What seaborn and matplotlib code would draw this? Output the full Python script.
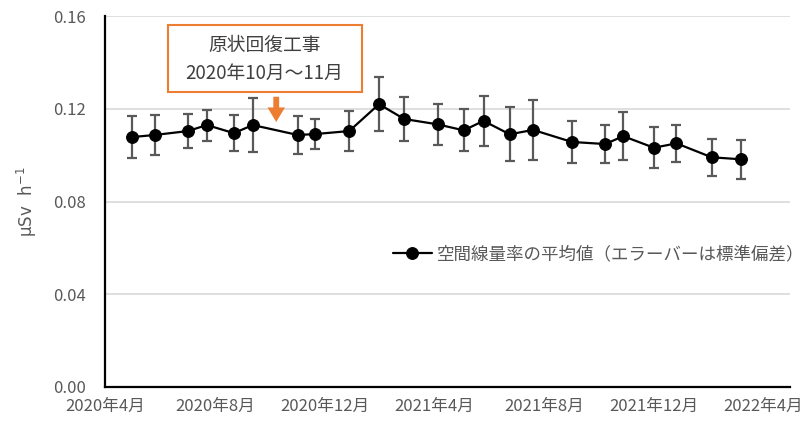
import matplotlib
matplotlib.use("Agg")
import matplotlib.pyplot as plt
import matplotlib.dates as mdates
from matplotlib.patches import FancyArrowPatch, Rectangle
import seaborn as sns
import pandas as pd

# Survey dates, mean air dose rate (μSv/h) and standard deviation
dates = ["2020-05-01", "2020-05-26", "2020-07-02", "2020-07-23", "2020-08-22",
         "2020-09-12", "2020-11-01", "2020-11-20", "2020-12-28", "2021-01-30",
         "2021-02-27", "2021-04-05", "2021-05-04", "2021-05-26", "2021-06-24",
         "2021-07-20", "2021-09-01", "2021-10-08", "2021-10-28", "2021-12-01",
         "2021-12-26", "2022-02-03", "2022-03-08"]
means = [0.1078, 0.1087, 0.1104, 0.1130, 0.1095, 0.1130, 0.1087, 0.1091,
         0.1104, 0.1220, 0.1156, 0.1133, 0.1107, 0.1148, 0.1090, 0.1109,
         0.1057, 0.1048, 0.1082, 0.1032, 0.1051, 0.0991, 0.0982]
sds = [0.0091, 0.0086, 0.0075, 0.0067, 0.0078, 0.0116, 0.0081, 0.0066,
       0.0087, 0.0117, 0.0096, 0.0087, 0.0091, 0.0109, 0.0116, 0.0129,
       0.0092, 0.0080, 0.0104, 0.0088, 0.0080, 0.0080, 0.0083]

x_ticks = ["2020-04-01", "2020-08-01", "2020-12-01", "2021-04-01",
           "2021-08-01", "2021-12-01", "2022-04-01"]
x_tick_labels = ["2020年4月", "2020年8月", "2020年12月", "2021年4月",
                 "2021年8月", "2021年12月", "2022年4月"]
y_ticks = [0.00, 0.04, 0.08, 0.12, 0.16]
y_tick_labels = ["0.00", "0.04", "0.08", "0.12", "0.16"]

series_label = "空間線量率の平均値（エラーバーは標準偏差）"
note_text = "原状回復工事\n2020年10月～11月"
note_box_date = "2020-09-25"
note_arrow_date = "2020-10-08"

df = pd.DataFrame({"date": pd.to_datetime(dates), "mean": means, "sd": sds})

sns.set_theme(style="white")
plt.rcParams["font.family"] = ["Noto Sans CJK JP", "DejaVu Sans"]

GRAY = "#595959"
ORANGE = "#ED7D31"

fig = plt.figure(figsize=(8.05, 4.21), dpi=100)
ax = fig.add_axes([0.1304, 0.0808, 0.851, 0.881])

ax.errorbar(df["date"], df["mean"], yerr=df["sd"], fmt="none",
            ecolor=GRAY, elinewidth=1.6, capsize=3.3, capthick=1.6, zorder=2)
sns.lineplot(data=df, x="date", y="mean", ax=ax, color="black", lw=1.6,
             marker="o", markersize=8.5, markeredgecolor="black",
             label=series_label, zorder=3)

ax.set_xlim(pd.Timestamp("2020-04-01"), pd.Timestamp("2022-05-01"))
ax.set_ylim(0, 0.16)
ax.set_xticks(pd.to_datetime(x_ticks))
ax.set_xticklabels(x_tick_labels)
ax.set_yticks(y_ticks)
ax.set_yticklabels(y_tick_labels)
ax.set_xlabel("")
ax.set_ylabel("μSv  h$^{-1}$", color=GRAY, fontsize=12, labelpad=10,
              family=["DejaVu Sans"])

ax.grid(axis="y", color="#d9d9d9", lw=1.2)
ax.grid(axis="x", visible=False)
ax.set_axisbelow(True)
for side in ("top", "right"):
    ax.spines[side].set_visible(False)
for side in ("left", "bottom"):
    ax.spines[side].set_color("black")
    ax.spines[side].set_linewidth(1.6)

ax.tick_params(axis="x", direction="in", length=5, width=1.4, color="black",
               labelsize=12, labelcolor=GRAY, pad=8)
ax.tick_params(axis="y", length=0, labelsize=12, labelcolor=GRAY, pad=14)

leg = ax.legend(loc="center left", bbox_to_anchor=(386 / 805, (421 - 254) / 421),
                bbox_transform=fig.transFigure, frameon=False, fontsize=12.6,
                handlelength=2.2, handletextpad=0.3, borderaxespad=0)
for t in leg.get_texts():
    t.set_color(GRAY)

# Callout box for the restoration works period
ax.add_patch(Rectangle((0.092, 0.795), 0.283, 0.181, transform=ax.transAxes,
                       fc="white", ec=ORANGE, lw=1.5, zorder=4))
bx = mdates.date2num(pd.Timestamp(note_box_date))
arrow_x = mdates.date2num(pd.Timestamp(note_arrow_date))
ax.text(bx, 0.1412, note_text, ha="center", va="center", fontsize=13.5,
        color="#404040", linespacing=1.4, zorder=5)
arrow = FancyArrowPatch((arrow_x, 0.1252), (arrow_x, 0.1143),
                        arrowstyle="simple,head_width=0.9,head_length=0.75,tail_width=0.3",
                        mutation_scale=14, color=ORANGE, lw=0,
                        shrinkA=0, shrinkB=0, zorder=5)
ax.add_patch(arrow)

fig.savefig("out.png", dpi=100)
